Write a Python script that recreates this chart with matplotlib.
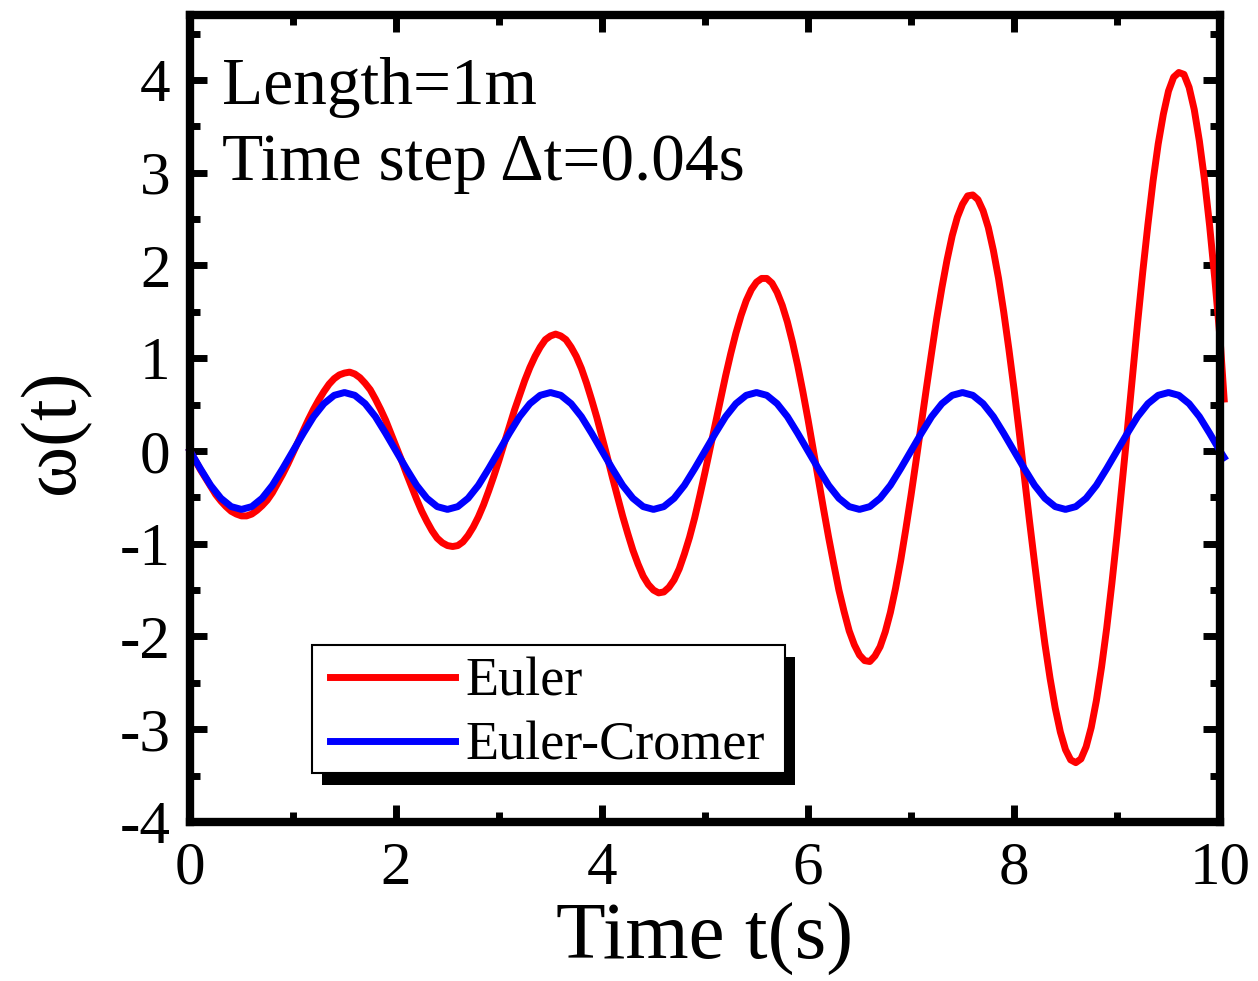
import matplotlib
matplotlib.use("Agg")
import matplotlib.pyplot as plt
from matplotlib.patches import Rectangle
from matplotlib.ticker import MultipleLocator

plt.rcParams['font.family'] = ['Liberation Serif', 'DejaVu Serif']
plt.rcParams['axes.unicode_minus'] = False

# sample times (s)
t_euler = [round(0.05 * i, 2) for i in range(201)] + [10.04]
t_cromer = [round(0.1 * i, 1) for i in range(101)] + [10.04]

# Euler, every 0.05 s
euler = [
    0.00, -0.10, -0.20, -0.29, -0.38, -0.47, -0.54, -0.60, -0.65, -0.68,
    -0.70, -0.70, -0.68, -0.64, -0.59, -0.53, -0.45, -0.35, -0.25, -0.14,
    -0.02, 0.10, 0.22, 0.34, 0.45, 0.55, 0.64, 0.72, 0.78, 0.82,
    0.84, 0.85, 0.83, 0.79, 0.73, 0.66, 0.56, 0.45, 0.33, 0.19,
    0.05, -0.09, -0.24, -0.38, -0.52, -0.65, -0.76, -0.86, -0.94, -0.99,
    -1.02, -1.03, -1.02, -0.98, -0.91, -0.82, -0.71, -0.58, -0.43, -0.27,
    -0.10, 0.08, 0.26, 0.44, 0.60, 0.76, 0.90, 1.02, 1.12, 1.20,
    1.24, 1.26, 1.24, 1.20, 1.12, 1.02, 0.89, 0.73, 0.55, 0.36,
    0.15, -0.06, -0.28, -0.49, -0.70, -0.89, -1.07, -1.22, -1.35, -1.44,
    -1.50, -1.53, -1.52, -1.47, -1.39, -1.27, -1.11, -0.93, -0.72, -0.48,
    -0.23, 0.03, 0.29, 0.55, 0.81, 1.05, 1.27, 1.46, 1.62, 1.74,
    1.82, 1.86, 1.86, 1.81, 1.71, 1.57, 1.39, 1.17, 0.92, 0.64,
    0.34, 0.02, -0.30, -0.62, -0.93, -1.22, -1.50, -1.73, -1.94, -2.09,
    -2.20, -2.26, -2.27, -2.21, -2.11, -1.95, -1.74, -1.48, -1.18, -0.84,
    -0.48, -0.10, 0.29, 0.68, 1.06, 1.43, 1.76, 2.06, 2.32, 2.52,
    2.66, 2.75, 2.76, 2.71, 2.59, 2.41, 2.16, 1.86, 1.50, 1.10,
    0.67, 0.21, -0.27, -0.75, -1.21, -1.66, -2.08, -2.45, -2.77, -3.03,
    -3.22, -3.33, -3.36, -3.32, -3.19, -2.98, -2.69, -2.33, -1.91, -1.43,
    -0.91, -0.35, 0.22, 0.80, 1.38, 1.93, 2.44, 2.91, 3.31, 3.63,
    3.88, 4.03, 4.08, 4.06, 3.92, 3.68, 3.34, 2.92, 2.42, 1.85,
    1.22, 0.56,
]

# Euler-Cromer, every 0.1 s
euler_cromer = [
    0.00, -0.19, -0.37, -0.51, -0.60, -0.63, -0.60, -0.51, -0.37, -0.19,
    0.00, 0.19, 0.37, 0.51, 0.60, 0.63, 0.60, 0.51, 0.37, 0.19,
    0.00, -0.19, -0.37, -0.51, -0.60, -0.63, -0.60, -0.51, -0.37, -0.19,
    0.00, 0.19, 0.37, 0.51, 0.60, 0.63, 0.60, 0.51, 0.37, 0.19,
    0.00, -0.19, -0.37, -0.51, -0.60, -0.63, -0.60, -0.51, -0.37, -0.19,
    0.00, 0.19, 0.37, 0.51, 0.60, 0.63, 0.60, 0.51, 0.37, 0.19,
    0.00, -0.19, -0.37, -0.51, -0.60, -0.63, -0.60, -0.51, -0.37, -0.19,
    0.00, 0.19, 0.37, 0.51, 0.60, 0.63, 0.60, 0.51, 0.37, 0.19,
    0.00, -0.19, -0.37, -0.51, -0.60, -0.63, -0.60, -0.51, -0.37, -0.19,
    0.00, 0.19, 0.37, 0.51, 0.60, 0.63, 0.60, 0.51, 0.37, 0.19,
    0.00, -0.07,
]

xticks = [0, 2, 4, 6, 8, 10]
yticks = [-4, -3, -2, -1, 0, 1, 2, 3, 4]

fig = plt.figure(figsize=(12.58, 9.81), dpi=100)
ax = fig.add_axes([190 / 1258, 1 - 822 / 981, 1030 / 1258, 807 / 981])

ax.plot(t_euler, euler, color='#ff0000', lw=5, label='Euler', clip_on=False)
ax.plot(t_cromer, euler_cromer, color='#0000ff', lw=5, label='Euler-Cromer', clip_on=False)

ax.set_xlim(0, 10)
ax.set_ylim(-4, 4.7)
ax.set_xticks(xticks)
ax.set_yticks(yticks)
ax.xaxis.set_minor_locator(MultipleLocator(1))
ax.yaxis.set_minor_locator(MultipleLocator(0.5))
ax.tick_params(which='both', direction='in', top=True, right=True, width=5, labelsize=44)
ax.tick_params(which='major', length=12, pad=14)
ax.tick_params(which='minor', length=7)
for s in ax.spines.values():
    s.set_linewidth(6)

ax.set_xlabel('Time t(s)', fontsize=58.5)
ax.xaxis.set_label_coords(0.5, -0.1)
ax.set_ylabel('ω(t)', fontsize=56)
ax.yaxis.set_label_coords(-0.097, 0.483)

ax.text(0.031, 0.89, 'Length=1m', transform=ax.transAxes, fontsize=48.5, va='baseline')
ax.text(0.031, 0.795, 'Time step Δt=0.04s', transform=ax.transAxes, fontsize=48.5, va='baseline')

# legend box with a hard black drop shadow, drawn by hand
ax.add_patch(Rectangle((0.1282, 0.0458), 0.4592, 0.1586, transform=ax.transAxes,
                       facecolor='black', edgecolor='none', zorder=4.8))
ax.add_patch(Rectangle((0.1184, 0.0607), 0.4592, 0.1586, transform=ax.transAxes,
                       facecolor='white', edgecolor='black', lw=1.5, zorder=4.9))
leg = ax.legend(loc='upper left', bbox_to_anchor=(0.136, 0.2045), borderaxespad=0,
                fontsize=39, handlelength=2.3, handletextpad=0.2, labelspacing=0.25,
                borderpad=0, frameon=False)
leg.set_zorder(5)

fig.savefig('out.png', dpi=100)
